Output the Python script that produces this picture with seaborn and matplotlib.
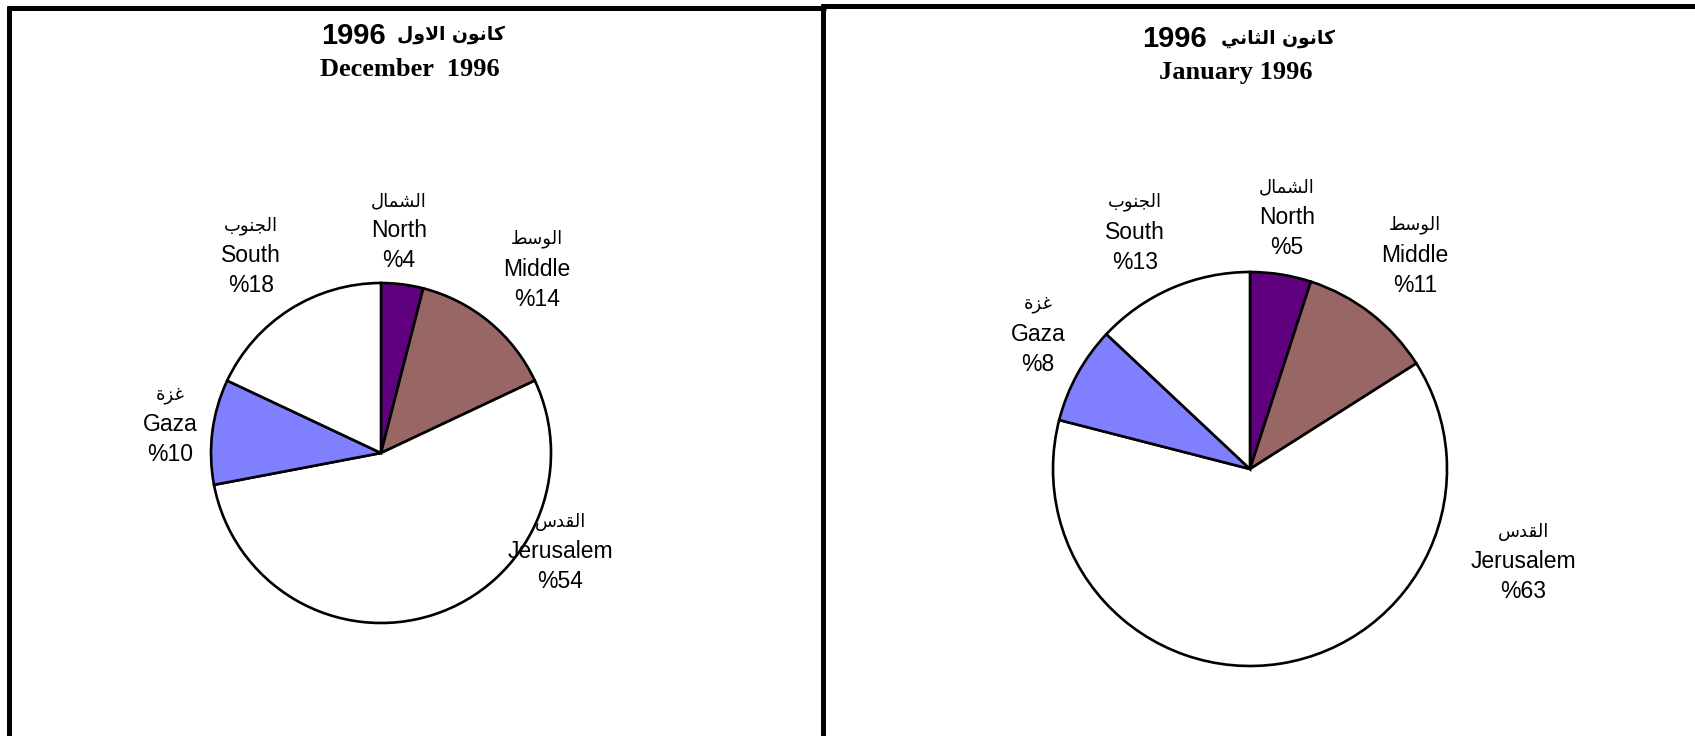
import re
import seaborn as sns
import matplotlib.pyplot as plt
from matplotlib.lines import Line2D

# data
regions_en = ['North', 'Middle', 'Jerusalem', 'Gaza', 'South']
regions_ar = ['الشمال', 'الوسط', 'القدس', 'غزة', 'الجنوب']
dec_values = [4, 14, 54, 10, 18]
jan_values = [5, 11, 63, 8, 13]
dec_title_ar = 'كانون الاول 1996'
dec_title_en = 'December  1996'
jan_title_ar = 'كانون الثاني  1996'
jan_title_en = 'January 1996'

colors = ['#5f007f', '#996666', '#ffffff', '#8080ff', '#ffffff']

# arabic presentation forms: isolated, final, initial, medial
FORMS = {
    'ا': (0xFE8D, 0xFE8E, None, None),
    'ب': (0xFE8F, 0xFE90, 0xFE91, 0xFE92),
    'ة': (0xFE93, 0xFE94, None, None),
    'ث': (0xFE99, 0xFE9A, 0xFE9B, 0xFE9C),
    'ج': (0xFE9D, 0xFE9E, 0xFE9F, 0xFEA0),
    'د': (0xFEA9, 0xFEAA, None, None),
    'ز': (0xFEAF, 0xFEB0, None, None),
    'س': (0xFEB1, 0xFEB2, 0xFEB3, 0xFEB4),
    'ش': (0xFEB5, 0xFEB6, 0xFEB7, 0xFEB8),
    'ط': (0xFEC1, 0xFEC2, 0xFEC3, 0xFEC4),
    'غ': (0xFECD, 0xFECE, 0xFECF, 0xFED0),
    'ق': (0xFED5, 0xFED6, 0xFED7, 0xFED8),
    'ك': (0xFED9, 0xFEDA, 0xFEDB, 0xFEDC),
    'ل': (0xFEDD, 0xFEDE, 0xFEDF, 0xFEE0),
    'م': (0xFEE1, 0xFEE2, 0xFEE3, 0xFEE4),
    'ن': (0xFEE5, 0xFEE6, 0xFEE7, 0xFEE8),
    'و': (0xFEED, 0xFEEE, None, None),
    'ي': (0xFEF1, 0xFEF2, 0xFEF3, 0xFEF4),
}


def ar(text):
    # join letters, then put them in visual (left to right) order
    out = []
    prev = False
    i = 0
    while i < len(text):
        c = text[i]
        nxt = text[i + 1] if i + 1 < len(text) else ''
        if c not in FORMS:
            out.append(c)
            prev = False
            i += 1
            continue
        if c == 'ل' and nxt == 'ا':
            out.append(chr(0xFEFC if prev else 0xFEFB))
            prev = False
            i += 2
            continue
        iso, fin, ini, med = FORMS[c]
        left = ini is not None and nxt in FORMS
        if prev and left:
            f = med
        elif prev:
            f = fin
        elif left:
            f = ini
        else:
            f = iso
        out.append(chr(f))
        prev = left
        i += 1
    vis = ''.join(reversed(out))
    return re.sub(r'\d+', lambda m: m.group()[::-1], vis)


sns.set_theme(style='white')
plt.rcParams['font.family'] = ['Liberation Sans', 'DejaVu Sans']
plt.rcParams['text.color'] = 'black'

W, H = 1695, 736
fig = plt.figure(figsize=(W / 100, H / 100), dpi=100)

# panel frames
frame = dict(color='black', linewidth=3.6, solid_capstyle='butt')
fig.add_artist(Line2D([7 / W, 826 / W], [1 - 7.8 / H, 1 - 7.8 / H], transform=fig.transFigure, **frame))
fig.add_artist(Line2D([821 / W, 1], [1 - 6.2 / H, 1 - 6.2 / H], transform=fig.transFigure, **frame))
fig.add_artist(Line2D([9.2 / W, 9.2 / W], [0, 1 - 5.5 / H], transform=fig.transFigure, **frame))
fig.add_artist(Line2D([823.4 / W, 823.4 / W], [0, 1 - 4 / H], transform=fig.transFigure, **frame))

panels = [
    dict(values=dec_values, cx=381, cy=453, r=170, t_ar=dec_title_ar, t_en=dec_title_en,
         tx=410, split=386, gap=11, ty_ar=36, ty_en=69,
         pos=[(0.106, 1.306), (0.918, 1.082), (1.053, -0.582), (-1.241, 0.165), (-0.765, 1.159)]),
    dict(values=jan_values, cx=1250, cy=469, r=197, t_ar=jan_title_ar, t_en=jan_title_en,
         tx=1236, split=1207, gap=14, ty_ar=39, ty_en=72,
         pos=[(0.188, 1.279), (0.838, 1.086), (1.386, -0.472), (-1.076, 0.685), (-0.584, 1.203)]),
]

m = 1.05
for p in panels:
    s = p['r'] * m
    ax = fig.add_axes([(p['cx'] - s) / W, (H - p['cy'] - s) / H, 2 * s / W, 2 * s / H])
    ax.pie(p['values'], colors=colors, startangle=90, counterclock=False,
           wedgeprops=dict(edgecolor='black', linewidth=1.9))
    ax.set_xlim(-m, m)
    ax.set_ylim(-m, m)
    ax.set_aspect('equal')
    ax.axis('off')
    for (x, y), en, a, v in zip(p['pos'], regions_en, regions_ar, p['values']):
        ax.text(x, y, en, ha='center', va='center', fontsize=16.5, color='black')
        ax.annotate(ar(a), (x, y), xytext=(0, 21.6), textcoords='offset points',
                    ha='center', va='center', fontsize=13, family='DejaVu Sans',
                    color='black', annotation_clip=False)
        ax.annotate(f'%{v}', (x, y), xytext=(0, -21.6), textcoords='offset points',
                    ha='center', va='center', fontsize=16.5, color='black',
                    annotation_clip=False)
    # arabic title: the year in a heavy latin face, the words in arabic
    words, year = re.match(r'(\D+?)\s+(\d+)', p['t_ar']).groups()
    fig.text(p['split'] / W, 1 - p['ty_ar'] / H, year, ha='right', va='center',
             fontsize=21, fontweight='bold', family='Liberation Sans', color='black')
    fig.text((p['split'] + p['gap']) / W, 1 - (p['ty_ar'] - 1) / H, ar(words), ha='left',
             va='center', fontsize=13.5, fontweight='bold', family='DejaVu Sans', color='black')
    fig.text(p['tx'] / W, 1 - p['ty_en'] / H, p['t_en'], ha='center', va='center',
             fontsize=19, fontweight='bold', family='Liberation Serif', color='black')

fig.savefig('out.png', dpi=100, facecolor='white')
